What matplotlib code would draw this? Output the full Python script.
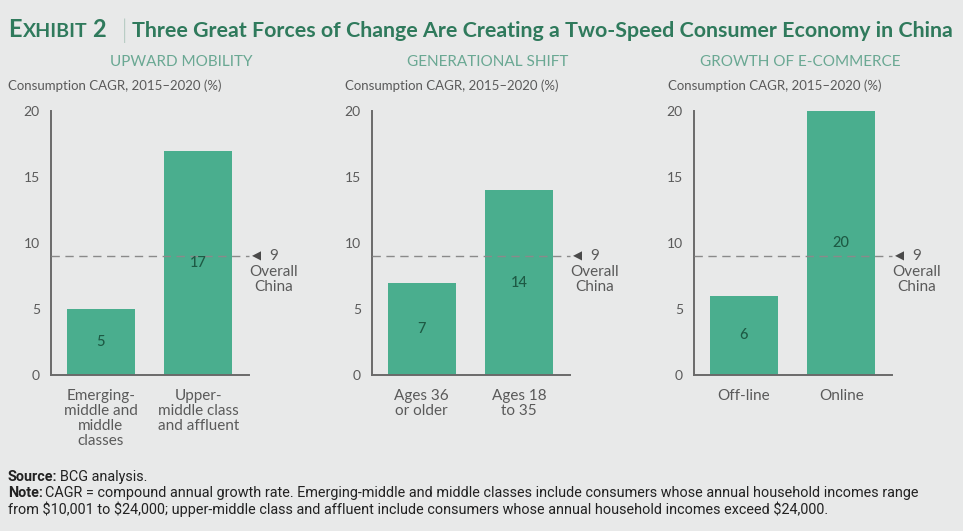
import matplotlib
matplotlib.use("Agg")
import matplotlib.pyplot as plt

# ---------------------------------------------------------------------------
panel_titles = ["UPWARD MOBILITY", "GENERATIONAL SHIFT", "GROWTH OF E-COMMERCE"]
categories = [["Emerging-\nmiddle and\nmiddle\nclasses", "Upper-\nmiddle class\nand affluent"],
              ["Ages 36\nor older", "Ages 18\nto 35"],
              ["Off-line", "Online"]]
values = [[5, 17], [7, 14], [6, 20]]
overall = 9
y_ticks = [0, 5, 10, 15, 20]
subtitle = "Consumption CAGR, 2015\u20132020 (%)"
# ---------------------------------------------------------------------------

BG = "#e8e9e9"
BAR = "#4aae8e"
DARK = "#1d5a44"
TITLE = "#2f7a5c"
PTITLE = "#6aa893"
GREY = "#5a5a5a"
AXIS = "#6a6a6a"
NARROW = ['Liberation Sans Narrow', 'Roboto', 'Lato', 'DejaVu Sans']

plt.rcParams['font.family'] = ['Lato', 'DejaVu Sans']

W, H = 963, 531
fig = plt.figure(figsize=(W / 100, H / 100), dpi=100, facecolor=BG)
renderer = fig.canvas.get_renderer()

def fx(px):
    return px / W

def fy(py):
    return 1 - py / H

def run(x_px, y_px, pieces):
    # place text pieces one after another on a line, in pixel coords
    x = x_px
    for txt, kw, gap in pieces:
        t = fig.text(fx(x), fy(y_px), txt, ha="left", va="baseline", **kw)
        bb = t.get_window_extent(renderer)
        x = x + bb.width + gap
    return x

def fit_size(txt, width_px, **kw):
    # font size that makes txt about width_px wide
    t = fig.text(0, 0, txt, **kw)
    w = t.get_window_extent(renderer).width
    fs = t.get_fontsize() * width_px / w
    t.remove()
    return fs

ax_left = [51, 372, 694]
ax_w = 198
y_top, y_bot = 111, 375
sub_x = [8, 345, 668]
ptitle_x = [181, 488, 800]

for i in range(3):
    ax = fig.add_axes([fx(ax_left[i]), fy(y_bot), fx(ax_w), (y_bot - y_top) / H])
    ax.patch.set_alpha(0)
    xs = [0, 1]
    ax.bar(xs, values[i], width=0.7, color=BAR, zorder=2)
    for x, v in zip(xs, values[i]):
        ax.text(x, v / 2, str(v), ha="center", va="center", color=DARK, fontsize=10.5,
                fontweight="medium", zorder=4)
    ax.set_xlim(-0.51, 1.52)
    ax.set_ylim(0, 20)
    ax.axhline(overall, color="#8a8a8a", lw=1, ls=(0, (6, 4)), zorder=3, clip_on=False)
    for s in ["top", "right"]:
        ax.spines[s].set_visible(False)
    for s in ["left", "bottom"]:
        ax.spines[s].set_color(AXIS)
        ax.spines[s].set_linewidth(1.4)
    ax.set_yticks(y_ticks)
    ax.tick_params(axis="y", length=0, pad=8, labelsize=10, labelcolor=GREY)
    ax.set_xticks(xs)
    ax.set_xticklabels(categories[i], fontsize=11, color=GREY, linespacing=1.08)
    ax.tick_params(axis="x", length=0, pad=10)

    # arrow marker and overall label
    ax.annotate("\u25C0", xy=(1.0, overall), xycoords=("axes fraction", "data"),
                xytext=(5.5, 0), textcoords="offset points", ha="center", va="center",
                fontsize=8.5, color="#4a4a4a", family="DejaVu Sans")
    ax.annotate(str(overall), xy=(1.0, overall), xycoords=("axes fraction", "data"),
                xytext=(18, 0), textcoords="offset points", ha="center", va="center",
                fontsize=11, color=GREY)
    ax.annotate("Overall\nChina", xy=(1.0, overall), xycoords=("axes fraction", "data"),
                xytext=(18, -6.5), textcoords="offset points", ha="center", va="top",
                fontsize=11, color=GREY, linespacing=1.1)

    # panel headers
    fig.text(fx(ptitle_x[i]), fy(62), panel_titles[i], ha="center", va="center",
             fontsize=11, color=PTITLE)
    fig.text(fx(sub_x[i]), fy(86), subtitle, ha="left", va="center",
             fontsize=9.5, color=GREY)

# main title
tk = dict(fontweight="bold", color=TITLE)
run(8, 37, [("E", dict(fontsize=17, **tk), 1),
            ("XHIBIT", dict(fontsize=14, **tk), 5),
            ("2", dict(fontsize=17, **tk), 0)])
fig.text(fx(121), fy(38), "|", ha="left", va="baseline", fontsize=18, color=TITLE,
         fontweight="light")
title = "Three Great Forces of Change Are Creating a Two-Speed Consumer Economy in China"
fig.text(fx(132), fy(37), title, ha="left", va="baseline",
         fontsize=fit_size(title, 823, fontsize=15, **tk), **tk)

# footer
note1 = ("Note: CAGR = compound annual growth rate. Emerging-middle and middle classes include "
         "consumers whose annual household incomes range")
fs = fit_size(note1, 917, fontsize=9, family=NARROW)
fk = dict(fontsize=fs, color="#222222", family=NARROW)
run(8, 481, [("Source:", dict(fontweight="bold", **fk), 2.5),
             ("BCG analysis.", fk, 0)])
run(8, 497, [("Note:", dict(fontweight="bold", **fk), 2.5),
             ("CAGR = compound annual growth rate. Emerging-middle and middle classes include "
              "consumers whose annual household incomes range", fk, 0)])
run(8, 514, [("from $10,001 to $24,000; upper-middle class and affluent include consumers "
              "whose annual household incomes exceed $24,000.", fk, 0)])

fig.savefig("out.png", dpi=100, facecolor=BG)
